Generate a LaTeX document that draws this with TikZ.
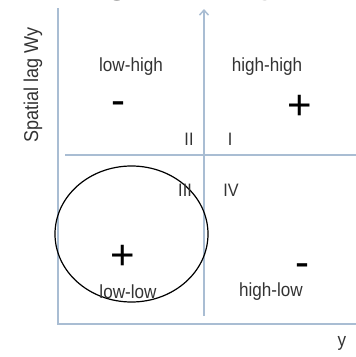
\documentclass[tikz,border=0pt]{standalone}
\usepackage{fontspec}
\setmainfont{Liberation Sans}
\newfontfamily\narrowfont[FakeStretch=0.9]{Liberation Sans}
\usetikzlibrary{arrows.meta,shapes.geometric}
\definecolor{axisblue}{HTML}{A9BDD3}
\definecolor{txtgray}{HTML}{333333}
\tikzset{
  axisline/.style={draw=axisblue, line width=1.5pt},
  lbl/.style={font=\narrowfont\fontsize{19}{19}\selectfont, text=txtgray, inner sep=0pt},
  sign/.style={font=\fontsize{42}{42}\selectfont, text=black, inner sep=0pt},
  roman/.style={font=\narrowfont\fontsize{18}{18}\selectfont, text=txtgray, inner sep=0pt},
  titlefrag/.style={font=\bfseries\fontsize{44}{44}\selectfont, text=black, inner sep=0pt, anchor=base},
}
\begin{document}
\begin{tikzpicture}[x=1pt,y=-1pt]
\useasboundingbox (0,0) rectangle (356,357);
\begin{scope}
\clip (0,0) rectangle (356,357);
\node[titlefrag] (tg) at (118,-9) {g};
\node[titlefrag] (ty) at (272,-9) {y};
\end{scope}
% axes
\coordinate (ltop) at (58,8);
\coordinate (lbot) at (58,324);
\coordinate (rbot) at (356,324);
\draw[axisline] (ltop) -- (lbot) -- (rbot);
\coordinate (vbot) at (204,316);
\coordinate (vtop) at (204,9);
\draw[axisline, -{Straight Barb[length=5pt,width=9pt]}] (vbot) -- (vtop);
\coordinate (hl) at (65,155);
\coordinate (hr) at (356,155);
\draw[axisline] (hl) -- (hr);
% circle
\node[draw=black, line width=1.2pt, ellipse, minimum width=153pt, minimum height=136pt, inner sep=0pt] (circ) at (131.5,234) {};
% labels
\node[lbl] (lh) at (131,67) {low-high};
\node[lbl] (hh) at (267,67) {high-high};
\node[lbl] (ll) at (128,292) {low-low};
\node[lbl] (hl2) at (271,292) {high-low};
\node[lbl] (ylab) at (342,343) {y};
\node[lbl, rotate=90, font=\narrowfont\fontsize{20}{20}\selectfont] (wy) at (33,85) {Spatial lag Wy};
% signs
\node[sign] (m1) at (118,108) {-};
\node[sign] (p1) at (300,107) {+};
\node[sign] (p2) at (123,257) {+};
\node[sign] (m2) at (302,270) {-};
% roman
\node[roman] (r2) at (189,139) {II};
\node[roman] (r1) at (230,139) {I};
\node[roman] (r3) at (185,190) {III};
\node[roman] (r4) at (231,190) {IV};
\end{tikzpicture}
\end{document}
